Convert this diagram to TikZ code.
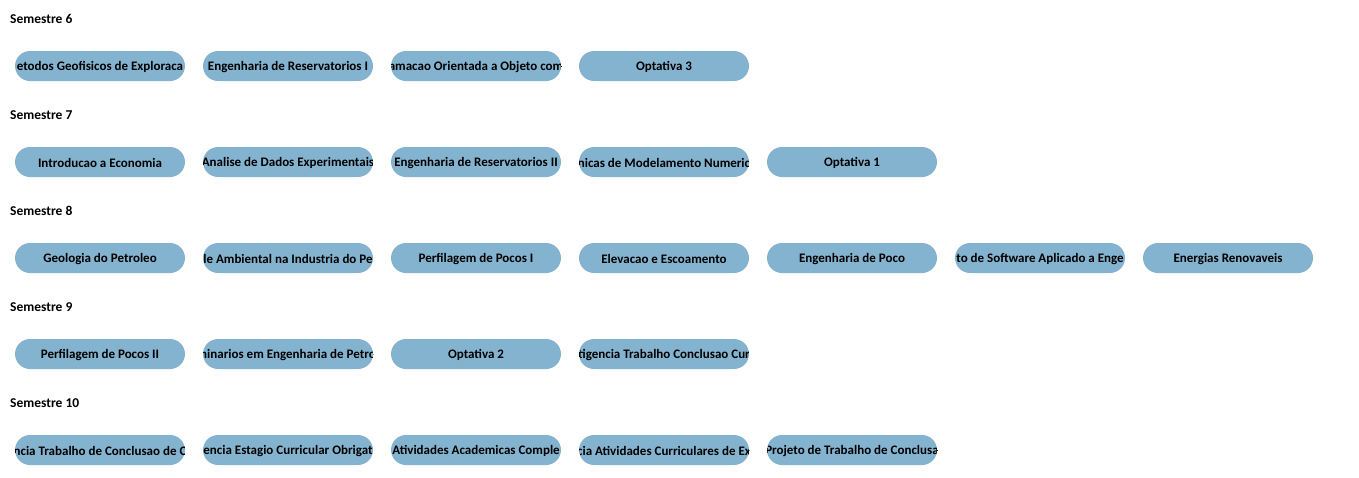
\documentclass[tikz,border=0pt]{standalone}
\usepackage{fontspec}
\setmainfont{Carlito}
\definecolor{pillblue}{HTML}{84B3CF}
\tikzset{
  pill/.style={rectangle, rounded corners=15pt, fill=pillblue, minimum width=170pt, minimum height=30pt, inner sep=0pt},
  ctext/.style={font=\bfseries\fontsize{13}{15}\selectfont, text=black, inner sep=0pt},
  semlabel/.style={font=\bfseries\fontsize{13.5}{15}\selectfont, anchor=west, inner sep=0pt}
}
\newcommand\course[4]{\node[pill, path picture={\node[ctext] at ([yshift=-1pt]path picture bounding box.center) {#4};}] (#1) at (#2,#3) {};}
\begin{document}
\begin{tikzpicture}[x=1pt,y=-1pt]
\useasboundingbox (0,0) rectangle (1359,477);
\fill[white] (0,0) rectangle (1359,477);
% Semestre 6
\node[semlabel] (l6) at (10,19) {Semestre 6};
\course{a61}{100}{66}{etodos Geofisicos de Exploraca}
\course{a62}{288}{66}{Engenharia de Reservatorios I}
\course{a63}{476}{66}{amacao Orientada a Objeto com}
\course{a64}{664}{66}{Optativa 3}
% Semestre 7
\node[semlabel] (l7) at (10,115) {Semestre 7};
\course{a71}{100}{162}{Introducao a Economia}
\course{a72}{288}{162}{Analise de Dados Experimentais}
\course{a73}{476}{162}{Engenharia de Reservatorios II}
\course{a74}{664}{162}{nicas de Modelamento Numeric}
\course{a75}{852}{162}{Optativa 1}
% Semestre 8
\node[semlabel] (l8) at (10,211) {Semestre 8};
\course{a81}{100}{258}{Geologia do Petroleo}
\course{a82}{288}{258}{le Ambiental na Industria do Pe}
\course{a83}{476}{258}{Perfilagem de Pocos I}
\course{a84}{664}{258}{Elevacao e Escoamento}
\course{a85}{852}{258}{Engenharia de Poco}
\course{a86}{1040}{258}{to de Software Aplicado a Enge}
\course{a87}{1228}{258}{Energias Renovaveis}
% Semestre 9
\node[semlabel] (l9) at (10,307) {Semestre 9};
\course{a91}{100}{354}{Perfilagem de Pocos II}
\course{a92}{288}{354}{ninarios em Engenharia de Petro}
\course{a93}{476}{354}{Optativa 2}
\course{a94}{664}{354}{tigencia Trabalho Conclusao Cur}
% Semestre 10
\node[semlabel] (l10) at (10,403) {Semestre 10};
\course{a101}{100}{450}{ncia Trabalho de Conclusao de C}
\course{a102}{288}{450}{encia Estagio Curricular Obrigat}
\course{a103}{476}{450}{Atividades Academicas Comple}
\course{a104}{664}{450}{cia Atividades Curriculares de Ex}
\course{a105}{852}{450}{Projeto de Trabalho de Conclusa}
\end{tikzpicture}
\end{document}
